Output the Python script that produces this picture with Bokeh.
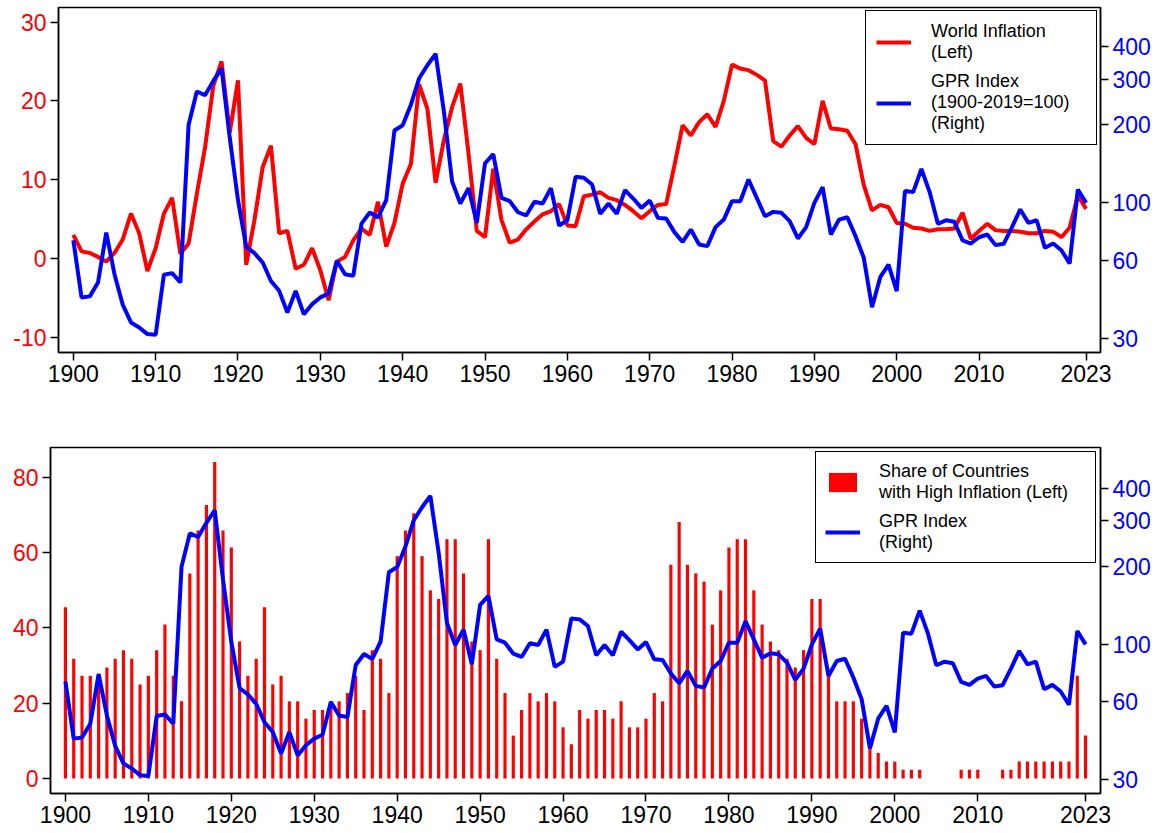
from bokeh.plotting import figure
from bokeh.models import Range1d, LogScale, LogAxis, FixedTicker, Legend, LegendItem
from bokeh.embed import file_html
from bokeh.resources import INLINE

FONT = "Liberation Sans"

years = list(range(1900, 2024))

world_inflation = [
    3.0, 0.9, 0.7, 0.2, -0.4, 0.7, 2.4, 5.7, 3.2, -1.6,
    1.3, 5.7, 7.7, 0.6, 1.9, 8.2, 14.1, 21.9, 25.0, 16.0,
    22.6, -0.8, 4.9, 11.6, 14.3, 3.2, 3.5, -1.3, -0.8, 1.3,
    -1.5, -5.3, -0.4, 0.2, 2.3, 3.8, 3.0, 7.2, 1.5, 4.5,
    9.5, 12.0, 22.1, 19.0, 9.6, 15.0, 19.2, 22.2, 13.3, 3.5,
    2.7, 11.4, 4.9, 2.0, 2.4, 3.7, 4.7, 5.6, 6.0, 6.9,
    4.2, 4.1, 7.9, 8.1, 8.4, 7.7, 7.4, 6.8, 6.0, 5.1,
    6.0, 6.8, 6.9, 11.8, 16.9, 15.6, 17.3, 18.3, 16.7, 20.0,
    24.6, 24.1, 23.9, 23.3, 22.6, 14.9, 14.2, 15.6, 16.8, 15.3,
    14.5, 20.0, 16.5, 16.4, 16.2, 14.5, 9.3, 6.1, 6.8, 6.5,
    4.5, 4.4, 3.9, 3.8, 3.5, 3.7, 3.7, 3.8, 5.8, 2.5,
    3.5, 4.4, 3.6, 3.5, 3.5, 3.4, 3.2, 3.2, 3.5, 3.4,
    2.7, 3.9, 8.0, 6.3,
]

gpr_index = [
    71.8, 43.2, 43.6, 49.3, 76.8, 53.1, 40.5, 34.6, 33.1, 31.2,
    31.0, 52.8, 53.6, 49.3, 199.8, 268.5, 260.0, 295.0, 330.0, 178.0,
    102.4, 67.7, 64.0, 58.9, 50.0, 45.8, 37.8, 45.8, 37.2, 40.7,
    43.2, 44.7, 59.8, 53.1, 52.3, 83.2, 91.8, 87.8, 102.4, 190.0,
    199.0, 239.0, 302.0, 339.0, 375.0, 226.0, 121.0, 99.4, 114.0, 83.7,
    142.0, 154.0, 104.5, 101.5, 92.0, 89.4, 101.0, 99.4, 114.0, 81.8,
    85.7, 126.0, 124.9, 117.7, 90.7, 99.4, 90.7, 111.9, 103.9, 95.6,
    102.0, 87.5, 87.0, 77.1, 70.7, 78.9, 69.1, 68.1, 80.6, 86.2,
    101.5, 101.5, 123.0, 104.5, 88.8, 92.3, 91.5, 85.0, 72.9, 80.6,
    100.0, 115.0, 75.5, 86.2, 88.0, 74.4, 61.4, 39.6, 51.7, 57.8,
    45.7, 111.0, 110.0, 135.0, 110.0, 83.0, 85.7, 84.5, 71.6, 69.7,
    73.7, 75.5, 68.7, 69.5, 80.6, 94.3, 83.7, 85.7, 67.1, 69.7,
    65.7, 58.4, 112.6, 100.0,
]

high_inflation_share = [
    45.5, 31.8, 27.3, 27.3, 27.3, 29.5, 31.8, 34.1, 31.8, 25.0,
    27.3, 34.1, 40.9, 27.3, 20.5, 54.5, 65.9, 72.7, 84.1, 65.9,
    61.4, 36.4, 27.3, 31.8, 45.5, 25.0, 27.3, 20.5, 20.5, 15.9,
    18.2, 18.2, 20.5, 20.5, 22.7, 27.3, 18.2, 34.1, 31.8, 22.7,
    59.1, 65.9, 70.5, 59.1, 50.0, 47.7, 63.6, 63.6, 54.5, 36.4,
    34.1, 63.6, 31.8, 22.7, 11.4, 18.2, 22.7, 20.5, 22.7, 20.5,
    13.6, 9.1, 18.2, 15.9, 18.2, 18.2, 15.9, 20.5, 13.6, 13.6,
    15.9, 22.7, 20.5, 56.8, 68.2, 56.8, 54.5, 52.3, 40.9, 50.0,
    61.4, 63.6, 63.6, 50.0, 40.9, 36.4, 34.1, 31.8, 29.5, 34.1,
    47.7, 47.7, 27.3, 20.5, 20.5, 20.5, 15.9, 9.1, 6.8, 4.5,
    4.5, 2.3, 2.3, 2.3, 0.0, 0.0, 0.0, 0.0, 2.3, 2.3,
    2.3, 0.0, 0.0, 2.3, 2.3, 4.5, 4.5, 4.5, 4.5, 4.5,
    4.5, 4.5, 27.3, 11.4,
]

x_ticks = [1900, 1910, 1920, 1930, 1940, 1950, 1960, 1970, 1980, 1990, 2000, 2010, 2023]
top_left_ticks = [-10, 0, 10, 20, 30]
bottom_left_ticks = [0, 20, 40, 60, 80]
gpr_ticks = [30, 60, 100, 200, 300, 400]


def style_axis(ax, color):
    ax.major_label_text_font = FONT
    ax.major_label_text_font_size = "23px"
    ax.major_label_text_color = color
    ax.major_label_standoff = 4
    ax.axis_line_color = "black"
    ax.axis_line_width = 1.5
    ax.major_tick_line_color = "black"
    ax.major_tick_line_width = 1.5
    ax.major_tick_in = 0
    ax.major_tick_out = 8
    ax.minor_tick_line_color = None


def base_fig(height, x0, x1, y0, y1, g0, g1, mb_left, mb_top, mb_bottom, lticks):
    p = figure(width=1164, height=height,
               x_range=Range1d(x0, x1), y_range=Range1d(y0, y1),
               extra_y_ranges={"gpr": Range1d(g0, g1)},
               extra_y_scales={"gpr": LogScale()},
               output_backend="svg", toolbar_location=None,
               min_border_left=mb_left, min_border_right=64,
               min_border_top=mb_top, min_border_bottom=mb_bottom)
    p.xgrid.visible = False
    p.ygrid.visible = False
    p.outline_line_color = "black"
    p.outline_line_width = 1.5
    p.outline_line_alpha = 1
    p.xaxis.ticker = FixedTicker(ticks=x_ticks)
    style_axis(p.xaxis[0], "black")
    p.yaxis.ticker = FixedTicker(ticks=lticks)
    p.yaxis[0].major_label_overrides = {t: str(t) for t in lticks}
    style_axis(p.yaxis[0], "red")
    rax = LogAxis(y_range_name="gpr", ticker=FixedTicker(ticks=gpr_ticks))
    style_axis(rax, "blue")
    p.add_layout(rax, "right")
    return p


def style_legend(leg, spacing, padding, standoff, label_width):
    leg.location = "top_right"
    leg.border_line_color = "black"
    leg.border_line_width = 1.5
    leg.border_line_alpha = 1
    leg.background_fill_alpha = 1
    leg.label_text_font = FONT
    leg.label_text_font_size = "18px"
    leg.label_text_color = "black"
    leg.glyph_width = 35
    leg.glyph_height = 24
    leg.label_standoff = standoff
    leg.label_width = label_width
    leg.spacing = spacing
    leg.padding = padding


# ---- Top panel ----
p1 = base_fig(410, 1898.2, 2024.75, -11.93, 31.85, 26.5, 566.0, 58, 7, 58, top_left_ticks)
r_inf = p1.line(years, world_inflation, line_color="red", line_width=4)
r_gpr1 = p1.line(years, gpr_index, line_color="blue", line_width=4, y_range_name="gpr")
leg1 = Legend(items=[
    LegendItem(label="World Inflation\n(Left)", renderers=[r_inf]),
    LegendItem(label="GPR Index\n(1900-2019=100)\n(Right)", renderers=[r_gpr1]),
])
style_legend(leg1, 8, 10, 20, 155)
leg1.margin = 3
p1.add_layout(leg1)

# ---- Bottom panel ----
p2 = base_fig(423, 1898.2, 2024.8, -3.99, 87.97, 26.5, 577.0, 50, 37, 40, bottom_left_ticks)
r_bar = p2.vbar(x=years, top=high_inflation_share, bottom=0, width=0.38,
                fill_color="red", fill_alpha=1, line_color=None)
r_gpr2 = p2.line(years, gpr_index, line_color="blue", line_width=4, y_range_name="gpr")
leg2 = Legend(items=[
    LegendItem(label="Share of Countries\nwith High Inflation (Left)", renderers=[r_bar]),
    LegendItem(label="GPR Index\n(Right)", renderers=[r_gpr2]),
])
style_legend(leg2, 8, 9, 19, 207)
leg2.margin = 4
p2.add_layout(leg2)

open("out.html", "w").write(file_html([p1, p2], INLINE))
